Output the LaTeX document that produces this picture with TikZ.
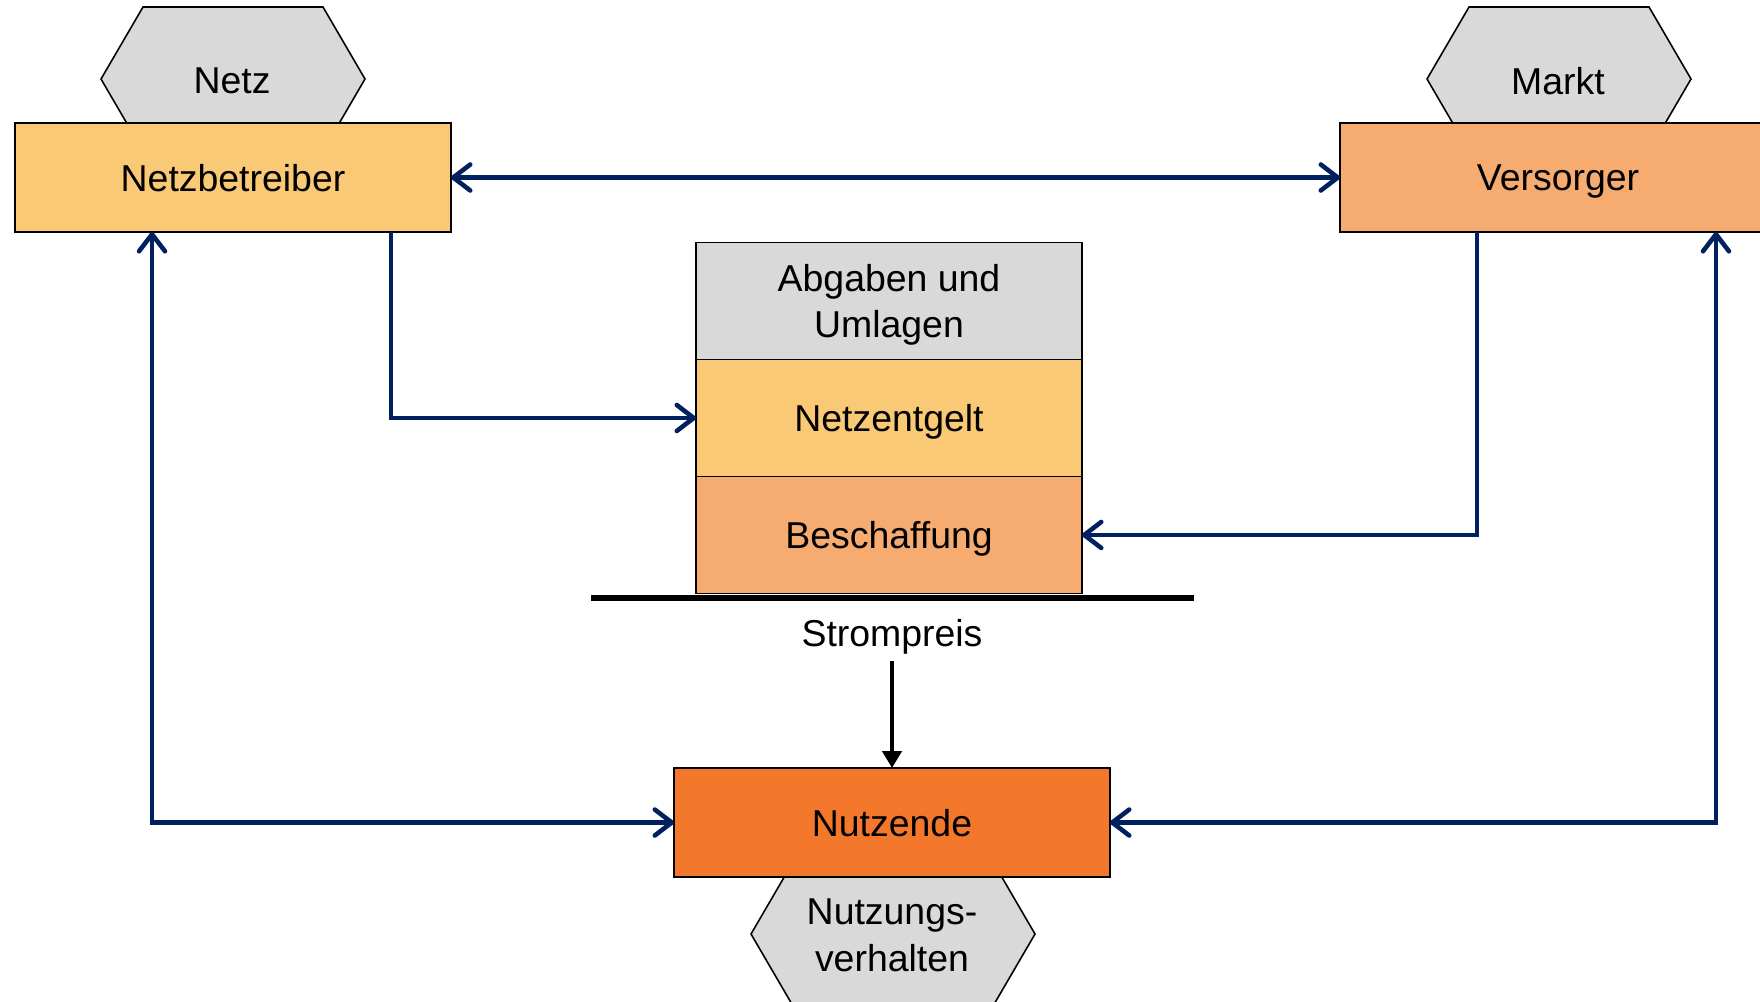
\documentclass[tikz,border=0pt]{standalone}
\usepackage{fontspec}
\setmainfont{Liberation Sans}
\usepackage{xcolor}
\usepackage{tikz}
\usetikzlibrary{calc, positioning, arrows.meta}

\definecolor{netzgelb}{HTML}{F9C975}
\definecolor{versorgerorange}{HTML}{F6AC70}
\definecolor{nutzerorange}{HTML}{F3782B}
\definecolor{hellgrau}{HTML}{D9D9D9}
\definecolor{pfeilblau}{HTML}{002060}

\begin{document}
\begin{tikzpicture}[x = 0.02cm, y = -0.02cm,
		font = \fontsize{21.3}{26.5}\selectfont,
		every node/.style = {text depth = 0pt},
		>= {Straight Barb[length = 0.34cm, width = 0.52cm, round]},
		akteur/.style = {draw, line width = 0.9pt, minimum width = 8.72cm, minimum height = 2.18cm, inner sep = 0pt, outer sep = 0pt},
		preisteil/.style = {draw, line width = 0.9pt, minimum width = 7.72cm, minimum height = 2.34cm, inner sep = 0pt, outer sep = 0pt, align = center},
		sechseck/.style = {draw, line width = 0.9pt, fill = hellgrau},
		beziehung/.style = {draw = pfeilblau, line width = 2.6pt}
	]
		\useasboundingbox (0,0) rectangle (1760,1001);
		\clip (0,0) rectangle (1760,1001);

		\def\hh{72};
		\def\sch{42};

		\filldraw [sechseck] (101,79) -- ++(\sch,-\hh) -- ++(180,0) -- ++(\sch,\hh) -- ++(-\sch,\hh) -- ++(-180,0) -- cycle;
		\filldraw [sechseck] (1427,79) -- ++(\sch,-\hh) -- ++(180,0) -- ++(\sch,\hh) -- ++(-\sch,\hh) -- ++(-180,0) -- cycle;
		\filldraw [sechseck] (751,934) -- ++(\sch,-\hh) -- ++(200,0) -- ++(\sch,\hh) -- ++(-\sch,\hh) -- ++(-200,0) -- cycle;

		\node (netz) at (232,81) {Netz};
		\node (markt) at (1558,81) {Markt};
		\node (verhalten) [align = center] at (892,935) {Nutzungs-\\verhalten};

		\node (netzbetreiber) [akteur, fill = netzgelb] at (233,177.5) {Netzbetreiber};
		\node (versorger) [akteur, fill = versorgerorange] at (1558,177.5) {Versorger};
		\node (nutzende) [akteur, fill = nutzerorange] at (892,822.5) {Nutzende};

		\node (abgaben) [preisteil, fill = hellgrau] at (889,301) {Abgaben und\\Umlagen};
		\node (netzentgelt) [preisteil, fill = netzgelb, below = 0pt of abgaben] {Netzentgelt};
		\node (beschaffung) [preisteil, fill = versorgerorange, below = 0pt of netzentgelt] {Beschaffung};

		\coordinate (boden links) at (591,598);
		\coordinate (boden rechts) at (1194,598);
		\draw [line width = 3.1pt] (boden links) -- (boden rechts);

		\node (strompreis) at (892,633) {Strompreis};
		\draw [line width = 2.8pt, -{Triangle[length = 0.34cm, width = 0.38cm]}] ([yshift = -0.16cm]strompreis.south) -- (nutzende.north);

		\draw [beziehung, <->] (netzbetreiber.east) -- (versorger.west);
		\draw [beziehung, ->] ([xshift = -1.2cm]netzbetreiber.south east) |- (netzentgelt.west);
		\draw [beziehung, ->] ([xshift = 2.74cm]versorger.south west) |- (beschaffung.east);
		\draw [beziehung, <->] (nutzende.west) -| ([xshift = 2.74cm]netzbetreiber.south west);
		\draw [beziehung, <->] (nutzende.east) -| ([xshift = -1.2cm]versorger.south east);
	\end{tikzpicture}
\end{document}
